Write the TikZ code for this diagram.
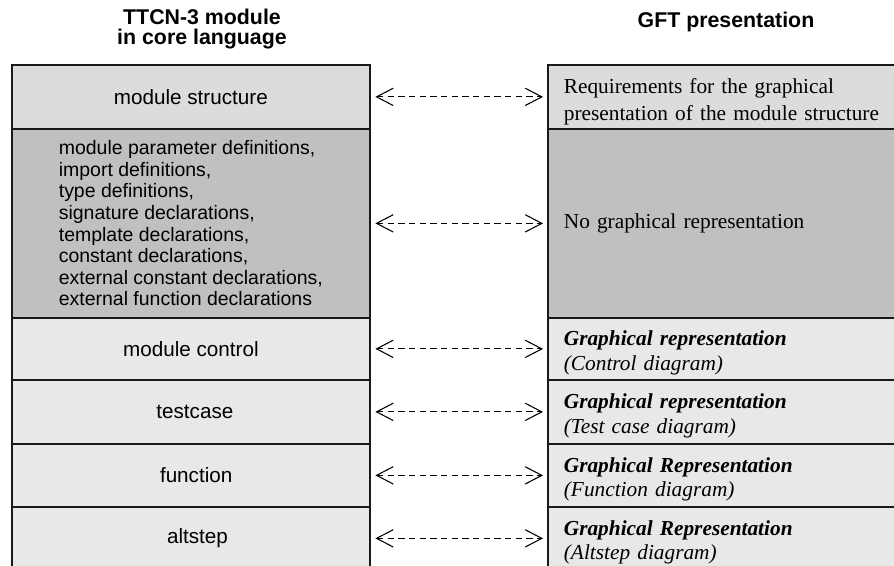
\documentclass[tikz,border=0pt]{standalone}
\usepackage{fontspec}
\setmainfont{Liberation Serif}
\setsansfont{Liberation Sans}
\usetikzlibrary{arrows.meta}
\definecolor{rowA}{HTML}{DCDCDC}
\definecolor{rowB}{HTML}{C0C0C0}
\definecolor{rowC}{HTML}{E8E8E8}
\newcommand{\upstrut}{\rule{0pt}{17pt}}
\begin{document}
\begin{tikzpicture}[x=0.75pt,y=-0.75pt,
  cell/.style={draw=black!90, line width=1.3pt, minimum width=268.5pt, inner sep=0pt, anchor=north west},
  lcell/.style={cell, font=\sffamily\fontsize{15.5}{18.5}\selectfont, align=center},
  rcell/.style={cell, font=\rmfamily\fontsize{16}{18.5}\selectfont, align=left, text width=244.5pt, inner xsep=12pt},
  head/.style={font=\sffamily\bfseries\fontsize{16}{15.5}\selectfont, align=center, inner sep=0pt},
  conn/.style={line width=0.8pt, dash pattern=on 4.8pt off 3.2pt, {Straight Barb[length=12.5pt,width=13pt]}-{Straight Barb[length=12.5pt,width=13pt]}, shorten <=3.5pt, shorten >=3pt}
]
\useasboundingbox (0,0) rectangle (894,566);
\clip (0,0) rectangle (894,566);

\node[head] (h1) at (202,29) {TTCN-3 module\\in core language};
\node[head, anchor=base] (h2) at (726,28) {GFT presentation};

% left column
\node[lcell, fill=rowA, minimum height=48pt] (l1) at (11,64) {module structure};
\node[lcell, fill=rowB, minimum height=141.75pt, font=\sffamily\fontsize{14.6}{16.2}\selectfont, align=left] (l2) at (11,128)
  {module parameter definitions,\\import definitions,\\type definitions,\\signature declarations,\\template declarations,\\constant declarations,\\external constant declarations,\\external function declarations};
\node[lcell, fill=rowC, minimum height=46.5pt] (l3) at (11,317) {module control};
\node[lcell, fill=rowC, minimum height=48pt] (l4) at (11,379) {\hspace*{6pt}testcase};
\node[lcell, fill=rowC, minimum height=47.25pt] (l5) at (11,443) {\hspace*{8pt}function};
\node[lcell, fill=rowC, minimum height=47.25pt] (l6) at (11,506) {\hspace*{10pt}altstep};

% right column
\node[rcell, fill=rowA, minimum height=48pt] (r1) at (547,64) {\rule{0pt}{19pt}Requirements for the graphical\\[2pt]presentation of the module structure};
\node[rcell, fill=rowB, minimum height=141.75pt] (r2) at (547,128) {No graphical representation\\[4pt]};
\node[rcell, fill=rowC, minimum height=46.5pt] (r3) at (547,317) {\upstrut\textbf{\textit{Graphical representation}}\\\textit{(Control diagram)}};
\node[rcell, fill=rowC, minimum height=48pt] (r4) at (547,379) {\upstrut\textbf{\textit{Graphical representation}}\\\textit{(Test case diagram)}};
\node[rcell, fill=rowC, minimum height=47.25pt] (r5) at (547,443) {\upstrut\textbf{\textit{Graphical Representation}}\\\textit{(Function diagram)}};
\node[rcell, fill=rowC, minimum height=47.25pt] (r6) at (547,506) {\upstrut\textbf{\textit{Graphical Representation}}\\\textit{(Altstep diagram)}};

% connectors
\foreach \i in {1,...,6} {
  \draw[conn] (l\i.east) -- (l\i.east -| r\i.west);
}
\end{tikzpicture}
\end{document}
